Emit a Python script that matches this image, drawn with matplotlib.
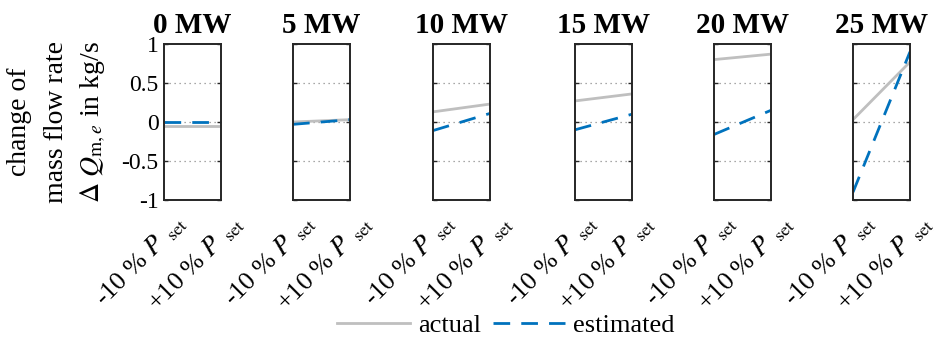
import matplotlib
matplotlib.use("Agg")
import matplotlib.pyplot as plt

plt.rcParams['font.family'] = ['Liberation Serif', 'DejaVu Serif']
plt.rcParams['mathtext.fontset'] = 'stix'

titles = ['0 MW', '5 MW', '10 MW', '15 MW', '20 MW', '25 MW']
xlabels = ['-10 % $P_{\\ \\ \\mathrm{set}}$', '+10 % $P_{\\ \\ \\mathrm{set}}$']
ylabel_lines = ['change of', 'mass flow rate', '$\\Delta\\ Q_{\\mathrm{m},e}$ in kg/s']
actual = [[-0.05, -0.05], [0.0, 0.03], [0.13, 0.23], [0.27, 0.36], [0.80, 0.87], [0.03, 0.77]]
estimated = [[0.0, 0.0], [-0.03, 0.03], [-0.11, 0.11], [-0.10, 0.10], [-0.16, 0.15], [-0.90, 0.90]]
yticks = [-1, -0.5, 0, 0.5, 1]
yticklabels = ['-1', '-0.5', '0', '0.5', '1']

W, H = 935, 338
fig = plt.figure(figsize=(W / 100, H / 100), dpi=100)

lefts = [164, 293, 433, 575, 714, 853]
ax_w, ax_top, ax_bot = 57, 44, 200
grey = '#bfbfbf'
blue = '#0072bd'
frame = '#262626'

for i, left in enumerate(lefts):
    ax = fig.add_axes([left / W, (H - ax_bot) / H, ax_w / W, (ax_bot - ax_top) / H])
    la, = ax.plot([0, 1], actual[i], color=grey, lw=2, label='actual')
    le, = ax.plot([0, 1], estimated[i], color=blue, lw=2, dashes=(6, 4), label='estimated')
    ax.set_xlim(0, 1)
    ax.set_ylim(-1, 1)
    ax.set_title(titles[i], fontsize=21, fontweight='bold', pad=8)
    ax.set_yticks(yticks)
    for y in [-0.5, 0, 0.5]:
        ax.axhline(y, color='#8c8c8c', lw=0.9, ls=(0, (1, 3)), zorder=0)
    ax.set_xticks([0, 1])
    ax.set_xticklabels([])
    for x, lab in zip([0, 1], xlabels):
        ax.annotate(lab, xy=(x, 0), xycoords=('data', 'axes fraction'),
                    xytext=(9, -10), textcoords='offset pixels', fontsize=19,
                    rotation=45, rotation_mode='anchor', ha='right', va='top')
    ax.tick_params(direction='in', length=3, width=1, color=frame,
                   left=True, right=True, top=False, bottom=False, pad=4)
    if i == 0:
        ax.set_yticklabels(yticklabels, fontsize=17)
    else:
        ax.set_yticklabels([])
    for s in ax.spines.values():
        s.set_color(frame)
        s.set_linewidth(1.4)

# y label, three centred lines
for xc, line in zip([20, 57, 93], ylabel_lines):
    fig.text(xc / W, (H - 122) / H, line, rotation=90, fontsize=20,
             ha='center', va='center')

fig.legend([la, le], ['actual', 'estimated'], loc='center', bbox_to_anchor=(0.541, 0.038),
           ncol=2, frameon=False, fontsize=19, handlelength=2.75, handletextpad=0.3,
           columnspacing=0.45)

fig.savefig('out.png', dpi=100)
